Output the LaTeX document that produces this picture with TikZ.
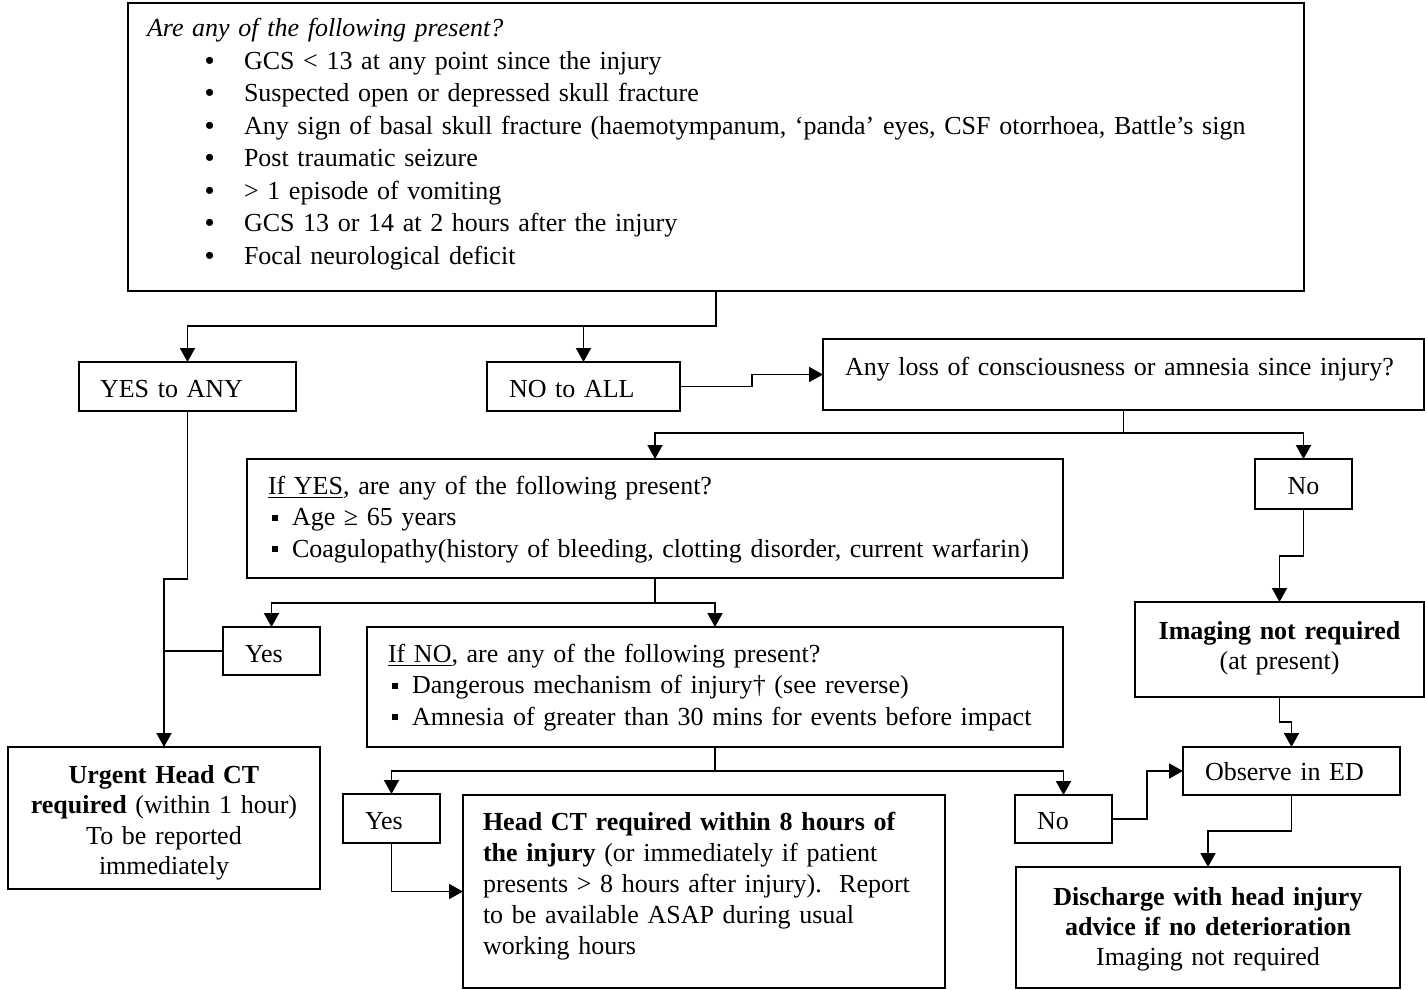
\documentclass[tikz,border=0pt]{standalone}
\usepackage{fontspec}
\setmainfont{Liberation Serif}
\usetikzlibrary{arrows.meta}
\hyphenpenalty=10000
\exhyphenpenalty=10000
\frenchspacing
\newcommand{\dotitem}{\hspace*{29pt}\makebox[19.5pt][l]{\textbf{\textbullet}}}
\newcommand{\sqitem}{\hspace*{2pt}\makebox[10pt][l]{\rule[2.5pt]{3pt}{3pt}}}

\begin{document}
\begin{tikzpicture}[x=0.5pt,y=-0.5pt,
  rbox/.style={draw=black,line width=0.9pt,rectangle,anchor=north west,inner ysep=0pt,outer sep=0pt,font=\fontsize{13}{15.5}\selectfont},
  flow/.style={line width=0.9pt,-{Triangle[width=7.5pt,length=7pt]}},
  link/.style={line width=0.9pt}]
\useasboundingbox (0,0) rectangle (1425,990);
\node[rbox,inner xsep=9.5pt,text width=569pt,text height=17pt,text depth=127pt,align=left,font=\fontsize{13}{16.25}\selectfont] (top) at (128,3) {\textit{Are any of the following present?}\\
\dotitem GCS < 13 at any point since the injury\\
\dotitem Suspected open or depressed skull fracture\\
\dotitem Any sign of basal skull fracture (haemotympanum, ‘panda’ eyes, CSF otorrhoea, Battle’s sign\\
\dotitem Post traumatic seizure\\
\dotitem > 1 episode of vomiting\\
\dotitem GCS 13 or 14 at 2 hours after the injury\\
\dotitem Focal neurological deficit};
\node[rbox,inner xsep=10.5pt,text width=87.5pt,text height=17.5pt,text depth=7pt,align=left] (yesany) at (79,362) {YES to ANY};
\node[rbox,inner xsep=11pt,text width=74.5pt,text height=17.5pt,text depth=7pt,align=left] (noall) at (487,362) {NO to ALL};
\node[rbox,inner xsep=11pt,text width=278.5pt,text height=18pt,text depth=17.5pt,align=left] (loss) at (823,339) {Any loss of consciousness or amnesia since injury?};
\node[rbox,inner xsep=10.5pt,text width=387pt,text height=17.5pt,text depth=42pt,align=left,font=\fontsize{13}{15.75}\selectfont] (ifyes) at (247,459) {\underline{If YES}, are any of the following present?\\
\sqitem Age ≥ 65 years\\
\sqitem Coagulopathy(history of bleeding, clotting disorder, current warfarin)};
\node[rbox,inner xsep=0pt,text width=48.5pt,text height=17.5pt,text depth=7.5pt,align=center] (lossno) at (1255,459) {No};
\node[rbox,inner xsep=0pt,text width=144.5pt,text height=18.5pt,text depth=29pt,align=center,font=\fontsize{13}{15}\selectfont] (imgnot) at (1135,602) {\textbf{Imaging not required}\\(at present)};
\node[rbox,inner xsep=11pt,text width=26.5pt,text height=17.5pt,text depth=6.5pt,align=left] (riskyes) at (223,627) {Yes};
\node[rbox,inner xsep=10.5pt,text width=327pt,text height=17.5pt,text depth=42.5pt,align=left,font=\fontsize{13}{15.75}\selectfont] (ifno) at (367,627) {\underline{If NO}, are any of the following present?\\
\sqitem Dangerous mechanism of injury† (see reverse)\\
\sqitem Amnesia of greater than 30 mins for events before impact};
\node[rbox,inner xsep=0pt,text width=156pt,text height=18pt,text depth=53pt,align=center,font=\fontsize{13}{15.25}\selectfont] (urgent) at (8,747) {\textbf{Urgent Head CT}\\\textbf{required} (within 1 hour)\\To be reported\\immediately};
\node[rbox,inner xsep=11pt,text width=86.5pt,text height=16.5pt,text depth=7.5pt,align=left] (observe) at (1183,747) {Observe in ED};
\node[rbox,inner xsep=11pt,text width=26.5pt,text height=17.5pt,text depth=7pt,align=left] (dangyes) at (343,794) {Yes};
\node[rbox,inner xsep=11pt,text width=26.5pt,text height=17pt,text depth=7pt,align=left] (dangno) at (1015,795) {No};
\node[rbox,inner xsep=10pt,text width=221pt,text height=17.5pt,text depth=79pt,align=left] (headct) at (463,795) {\textbf{Head CT required within 8 hours of}\\\textbf{the injury} (or immediately if patient\\presents > 8 hours after injury).~ Report\\to be available ASAP during usual\\working hours};
\node[rbox,inner xsep=0pt,text width=192pt,text height=19pt,text depth=41.5pt,align=center,font=\fontsize{13}{15}\selectfont] (discharge) at (1016,867) {\textbf{Discharge with head injury}\\\textbf{advice if no deterioration}\\Imaging not required};
\draw[flow] (top.south) -- ++(0,35) -| (yesany.north);
\draw[flow] (top.south) -- ++(0,35) -| (noall.north);
\draw[flow] (noall.east) -- ++(72,0) |- (loss.west);
\draw[flow] (loss.south) -- ++(0,23) -| (ifyes.north);
\draw[flow] (loss.south) -- ++(0,23) -| (lossno.north);
\draw[flow] (lossno.south) -- ++(0,47) -| (imgnot.north);
\draw[flow] (imgnot.south) -- ++(0,25) -| (observe.north);
\draw[flow] (observe.south) -- ++(0,36) -| (discharge.north);
\draw[flow] (ifyes.south) -- ++(0,25) -| (riskyes.north);
\draw[flow] (ifyes.south) -- ++(0,25) -| (ifno.north);
\draw[flow] (yesany.south) -- ++(0,168) -| (urgent.north);
\draw[link] (riskyes.west) -- (riskyes.west -| urgent.north);
\draw[flow] (ifno.south) -- ++(0,24) -| (dangyes.north);
\draw[flow] (ifno.south) -- ++(0,24) -| (dangno.north);
\draw[flow] (dangyes.south) |- (headct.west);
\draw[flow] (dangno.east) -- ++(35,0) |- (observe.west);
\end{tikzpicture}
\end{document}
